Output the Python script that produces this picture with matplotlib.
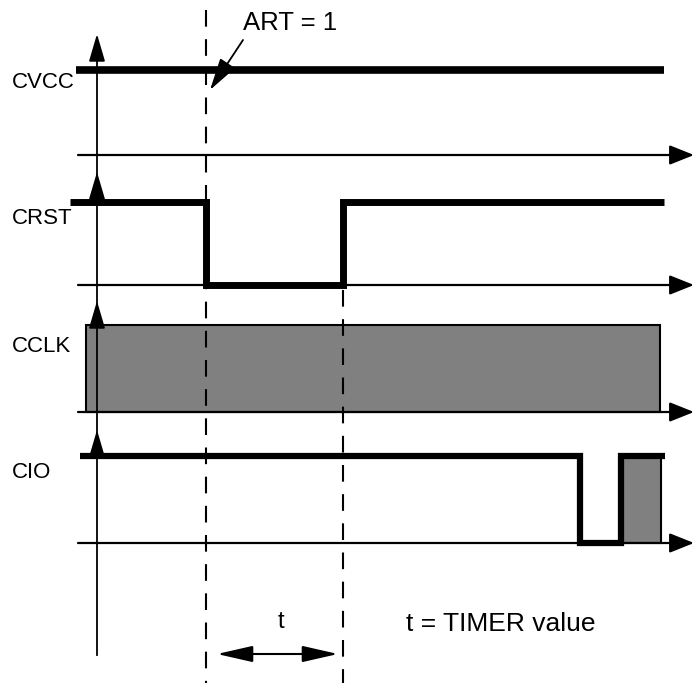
import matplotlib.pyplot as plt
from matplotlib.patches import Rectangle

plt.rcParams["font.family"] = ["Liberation Sans", "DejaVu Sans"]

# lanes (canvas units, y grows downwards)
names = ["CVCC", "CRST", "CCLK", "CIO"]
lane_high = [70, 202, 325, 456]
lane_low = [155, 285, 412, 543]
label_y = [83, 218, 346, 472]
axis_tip = [34, 172, 301, 430]

# signals: x positions and logic level (1 = high, 0 = low)
cvcc_x = [76, 664]
cvcc_lv = [1, 1]
crst_x = [70, 206, 206, 343, 343, 664]
crst_lv = [1, 1, 0, 0, 1, 1]
cio_x = [80, 580, 580, 621, 621, 665]
cio_lv = [1, 1, 0, 0, 1, 1]
cclk_span = [86, 660]
cio_burst = [622, 661]

t_art = 206
t_timer = 343

fig = plt.figure(figsize=(6.94, 6.83), dpi=100)
ax = fig.add_axes([0, 0, 1, 1])
ax.set_xlim(0, 694)
ax.set_ylim(683, 0)
ax.axis("off")


def arrow(x0, y0, x1, y1, lw=1.5, style="-|>", hl=1.5, hw=0.5):
    ax.annotate("", xy=(x1, y1), xytext=(x0, y0),
                arrowprops=dict(arrowstyle=f"{style},head_length={hl},head_width={hw}",
                                lw=lw, color="k", shrinkA=0, shrinkB=0,
                                mutation_scale=10))


def level(i, lv):
    return [lane_high[i] if v else lane_low[i] for v in lv]


# vertical time axis
ax.plot([97, 97], [axis_tip[0] + 10, 655], color="k", lw=1.3)
for tip in axis_tip:
    arrow(97, tip + 25, 97, tip, lw=1.3, hl=1.7, hw=0.5)

# baselines with arrowheads
for y in lane_low:
    arrow(78, y, 694, y, lw=1.6, hl=1.5, hw=0.6)

# dashed markers
ax.plot([t_art, t_art], [10, 683], color="k", lw=1.5, ls=(0, (8, 6)))
ax.plot([t_timer, t_timer], [290, 683], color="k", lw=1.5, ls=(0, (8, 6)))

# signals
ax.plot(cvcc_x, level(0, cvcc_lv), color="k", lw=5.5, solid_capstyle="butt")
ax.plot(crst_x, level(1, crst_lv), color="k", lw=5, solid_joinstyle="miter",
        solid_capstyle="butt")
ax.add_patch(Rectangle((cclk_span[0], lane_high[2]), cclk_span[1] - cclk_span[0],
                       lane_low[2] - lane_high[2], facecolor="#808080",
                       edgecolor="k", lw=1.5))
ax.add_patch(Rectangle((cio_burst[0], lane_high[3]), cio_burst[1] - cio_burst[0],
                       lane_low[3] - lane_high[3], facecolor="#808080",
                       edgecolor="k", lw=1.5))
ax.plot(cio_x, level(3, cio_lv), color="k", lw=4.5, solid_joinstyle="miter",
        solid_capstyle="butt")

for n, y in zip(names, label_y):
    ax.text(12, y, n, fontsize=16, va="center", ha="left")

# annotations
ax.text(243, 23, "ART = 1", fontsize=18.5, va="center", ha="left")
arrow(243, 40, 210, 90, lw=1.3, hl=2.0, hw=0.55)

ax.text(281, 622, "t", fontsize=17, va="center", ha="center")
arrow(270, 654, 217, 654, lw=1.5, hl=2.2, hw=0.5)
arrow(270, 654, 338, 654, lw=1.5, hl=2.2, hw=0.5)
ax.text(406, 624, "t = TIMER value", fontsize=19, va="center", ha="left")

fig.savefig("out.png", dpi=100)
